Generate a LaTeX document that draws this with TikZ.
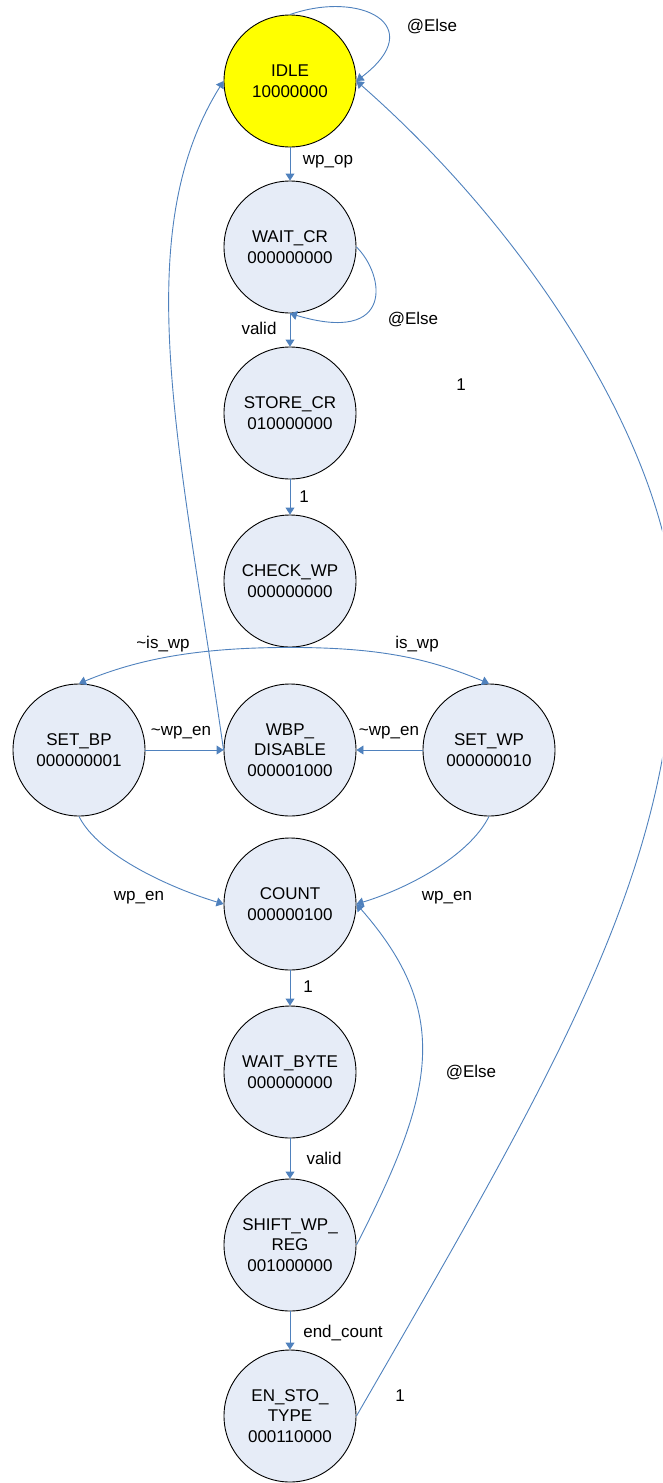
\documentclass[tikz,border=0pt]{standalone}
\usepackage{fontspec}
\setmainfont{Liberation Sans}
\usetikzlibrary{arrows.meta}
\definecolor{edgeblue}{RGB}{79,129,189}
\definecolor{statefill}{RGB}{230,236,247}
\definecolor{idlefill}{RGB}{255,255,0}

\begin{document}
\begin{tikzpicture}[x=1pt,y=-1pt,
  state/.style={circle, draw=black, line width=0.9pt, fill=statefill,
    minimum size=132pt, inner sep=0pt, align=center,
    font=\fontsize{17}{20.5}\selectfont},
  edge/.style={draw=edgeblue, line width=0.9pt,
    -{Triangle[length=7pt,width=9pt]}},
  lbl/.style={inner sep=0pt, font=\fontsize{17}{20.5}\selectfont}]

\clip (0,0) rectangle (662,1483);

% states
\node[state, fill=idlefill] (idle)  at (290,81)   {IDLE\\10000000};
\node[state] (waitcr)   at (290,247)  {WAIT\_CR\\000000000};
\node[state] (storecr)  at (290,413)  {STORE\_CR\\010000000};
\node[state] (checkwp)  at (290,581)  {CHECK\_WP\\000000000};
\node[state] (setbp)    at (79,750)   {SET\_BP\\000000001};
\node[state] (wbp)      at (290,750)  {WBP\_\\DISABLE\\000001000};
\node[state] (setwp)    at (489,750)  {SET\_WP\\000000010};
\node[state] (count)    at (290,904)  {COUNT\\000000100};
\node[state] (waitbyte) at (290,1072) {WAIT\_BYTE\\000000000};
\node[state] (shift)    at (290,1245) {SHIFT\_WP\_\\REG\\001000000};
\node[state] (ensto)    at (290,1416) {EN\_STO\_\\TYPE\\000110000};

% turning point of the long return arc
\coordinate (farright) at (675,620);

% transitions
\draw[edge] (idle.north) .. controls (360,-10) and (430,25) .. (idle.east);
\draw[edge] (idle) -- (waitcr);
\draw[edge] (waitcr.east) .. controls (385,275) and (395,345) .. (waitcr.south);
\draw[edge] (waitcr) -- (storecr);
\draw[edge] (storecr) -- (checkwp);
\draw[edge] (checkwp.south) .. controls +(-90,0) and +(60,-25) .. (setbp.north);
\draw[edge] (checkwp.south) .. controls +(90,0) and +(-60,-25) .. (setwp.north);
\draw[edge] (setbp) -- (wbp);
\draw[edge] (setwp) -- (wbp);
\draw[edge] (wbp.west) .. controls (181,453) and (126.6,236) .. (idle.west);
\draw[edge] (setbp.south) .. controls +(20,40) and +(-50,-15) .. (count.west);
\draw[edge] (setwp.south) .. controls +(-20,40) and +(50,-15) .. (count.east);
\draw[edge] (count) -- (waitbyte);
\draw[edge] (waitbyte) -- (shift);
\draw[edge] (shift.east) .. controls (433,1095) and (454,1015) .. (count.east);
\draw[edge] (shift) -- (ensto);
\draw[edge] (ensto.east) .. controls (556,1070) and (675,870) .. (farright)
  .. controls (675,470) and (545.5,247) .. (idle.east);

% transition labels
\node[lbl] (l1)  at (432,27)   {@Else};
\node[lbl] (l2)  at (328,162)  {wp\_op};
\node[lbl] (l3)  at (413,320)  {@Else};
\node[lbl] (l4)  at (259,328)  {valid};
\node[lbl] (l5)  at (461,385)  {1};
\node[lbl] (l6)  at (304,497)  {1};
\node[lbl] (l7)  at (163,644)  {\textasciitilde is\_wp};
\node[lbl] (l8)  at (417,644)  {is\_wp};
\node[lbl] (l9)  at (181,733)  {\textasciitilde wp\_en};
\node[lbl] (l10) at (389,733)  {\textasciitilde wp\_en};
\node[lbl] (l11) at (139,898)  {wp\_en};
\node[lbl] (l12) at (447,898)  {wp\_en};
\node[lbl] (l13) at (308,987)  {1};
\node[lbl] (l14) at (471,1073) {@Else};
\node[lbl] (l15) at (324,1158) {valid};
\node[lbl] (l16) at (343,1333) {end\_count};
\node[lbl] (l17) at (400,1396) {1};
\end{tikzpicture}
\end{document}
